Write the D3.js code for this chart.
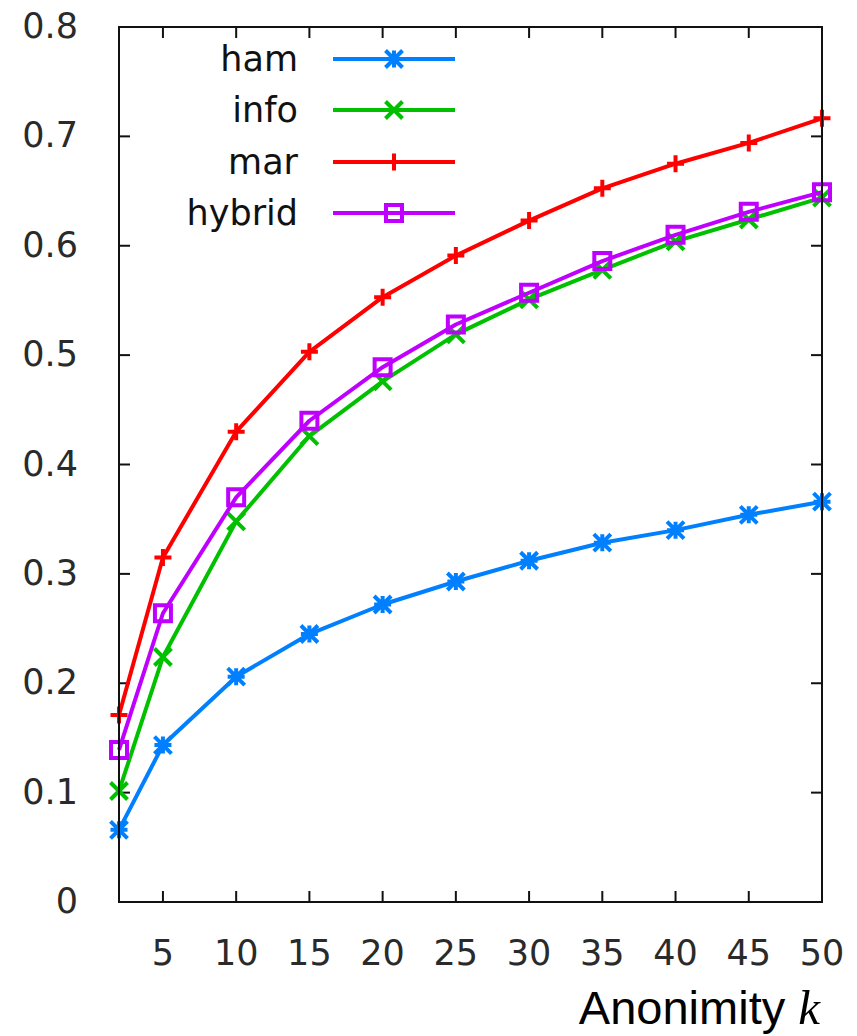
<!DOCTYPE html>
<html><head><meta charset="utf-8">
<script src="https://cdn.jsdelivr.net/npm/d3@7"></script>
<style>body{margin:0;background:#fff}svg{display:block}</style>
</head><body>
<script>
const kValues = [2, 5, 10, 15, 20, 25, 30, 35, 40, 45, 50];
const ham    = [0.066, 0.1435, 0.206, 0.245, 0.272, 0.293, 0.312, 0.3285, 0.340, 0.354, 0.366];
const info   = [0.1015, 0.224, 0.348, 0.426, 0.476, 0.519, 0.551, 0.578, 0.604, 0.624, 0.644];
const mar    = [0.171, 0.315, 0.430, 0.503, 0.553, 0.591, 0.623, 0.6525, 0.675, 0.694, 0.7165];
const hybrid = [0.139, 0.264, 0.370, 0.440, 0.489, 0.528, 0.557, 0.586, 0.610, 0.631, 0.649];
const seriesNames = ["ham", "info", "mar", "hybrid"];
const seriesColors = ["#0080ff", "#00c000", "#ff0000", "#c000ff"];
const seriesMarkers = ["asterisk", "cross", "plus", "square"];
const xTicks = [5, 10, 15, 20, 25, 30, 35, 40, 45, 50];
const yTicks = [0, 0.1, 0.2, 0.3, 0.4, 0.5, 0.6, 0.7, 0.8];
const xLabel = "Anonimity";
const xLabelVar = "k";

const W = 857, H = 1036;
const m = {left: 119, right: 35, top: 27, bottom: 134};
const svg = d3.select("body").append("svg").attr("width", W).attr("height", H);
const x = d3.scaleLinear().domain([2, 50]).range([m.left, W - m.right]);
const y = d3.scaleLinear().domain([0, 0.8]).range([H - m.bottom, m.top]);
const x0 = x.range()[0], x1 = x.range()[1], y0 = y.range()[0], y1 = y.range()[1];
const tickLen = 11;
const font = "'DejaVu Sans', sans-serif";
const textColor = "#2a2a2a";

const axisG = svg.append("g");
xTicks.forEach(t => {
  axisG.append("line").attr("x1", x(t)).attr("x2", x(t)).attr("y1", y0).attr("y2", y0 - tickLen)
    .attr("stroke", "#111").attr("stroke-width", 2);
  axisG.append("line").attr("x1", x(t)).attr("x2", x(t)).attr("y1", y1).attr("y2", y1 + tickLen)
    .attr("stroke", "#111").attr("stroke-width", 2);
  axisG.append("text").attr("x", x(t)).attr("y", y0 + 63).attr("text-anchor", "middle")
    .attr("font-family", font).attr("font-size", 35).attr("fill", textColor).text(t);
});
yTicks.forEach(t => {
  axisG.append("line").attr("x1", x0).attr("x2", x0 + tickLen).attr("y1", y(t)).attr("y2", y(t))
    .attr("stroke", "#111").attr("stroke-width", 2);
  axisG.append("line").attr("x1", x1).attr("x2", x1 - tickLen).attr("y1", y(t)).attr("y2", y(t))
    .attr("stroke", "#111").attr("stroke-width", 2);
  axisG.append("text").attr("x", x0 - 41).attr("y", y(t) + 11).attr("text-anchor", "end")
    .attr("font-family", font).attr("font-size", 35).attr("fill", textColor).text(t === 0 ? "0" : d3.format(".1f")(t));
});

function markerPath(type, h) {
  const p = d3.path();
  if (type === "plus" || type === "asterisk") {
    p.moveTo(-h, 0); p.lineTo(h, 0); p.moveTo(0, -h); p.lineTo(0, h);
  }
  if (type === "cross" || type === "asterisk") {
    p.moveTo(-h, -h); p.lineTo(h, h); p.moveTo(-h, h); p.lineTo(h, -h);
  }
  if (type === "square") {
    p.rect(-h, -h, 2 * h, 2 * h);
  }
  return p.toString();
}
const markerSize = {asterisk: 8.5, cross: 8.5, plus: 8.5, square: 8};

const allSeries = [ham, info, mar, hybrid];
const line = d3.line().x((d, i) => x(kValues[i])).y(d => y(d));
allSeries.forEach((vals, si) => {
  const g = svg.append("g");
  g.append("path").attr("d", line(vals)).attr("fill", "none")
    .attr("stroke", seriesColors[si]).attr("stroke-width", 4).attr("stroke-linejoin", "round");
  vals.forEach((v, i) => {
    g.append("path").attr("d", markerPath(seriesMarkers[si], markerSize[seriesMarkers[si]]))
      .attr("transform", `translate(${x(kValues[i])},${y(v)})`)
      .attr("fill", "none").attr("stroke", seriesColors[si]).attr("stroke-width", 4);
  });
});

svg.append("rect").attr("x", x0).attr("y", y1).attr("width", x1 - x0).attr("height", y0 - y1)
  .attr("fill", "none").attr("stroke", "#111").attr("stroke-width", 2);

const legY = [59, 110, 162, 213];
seriesNames.forEach((name, si) => {
  const g = svg.append("g");
  g.append("text").attr("x", 298).attr("y", legY[si] + 12).attr("text-anchor", "end")
    .attr("font-family", font).attr("font-size", 35).attr("fill", "#111").text(name);
  g.append("line").attr("x1", 333).attr("x2", 455).attr("y1", legY[si]).attr("y2", legY[si])
    .attr("stroke", seriesColors[si]).attr("stroke-width", 4);
  g.append("path").attr("d", markerPath(seriesMarkers[si], markerSize[seriesMarkers[si]]))
    .attr("transform", `translate(394,${legY[si]})`)
    .attr("fill", "none").attr("stroke", seriesColors[si]).attr("stroke-width", 4);
});

const tt = svg.append("text").attr("x", 820).attr("y", 1024).attr("text-anchor", "end")
  .attr("fill", "#000");
tt.append("tspan").attr("font-family", "'Liberation Sans', Arial, sans-serif").attr("font-size", 47).text(xLabel + " ");
tt.append("tspan").attr("font-family", "'Liberation Serif', serif").attr("font-style", "italic").attr("font-size", 49).text(xLabelVar);
</script>
</body></html>
